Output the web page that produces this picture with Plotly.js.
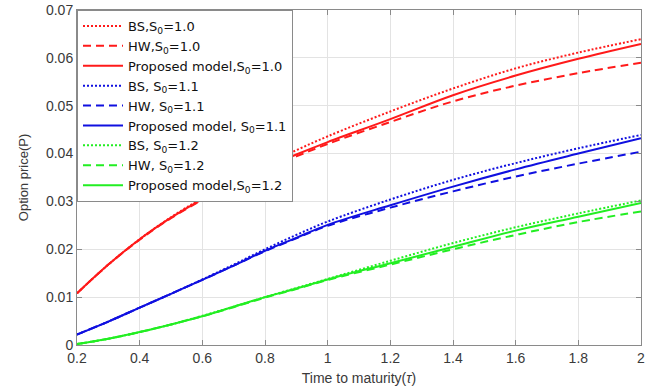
<!DOCTYPE html>
<html>
<head>
<meta charset="utf-8">
<script src="https://cdn.plot.ly/plotly-3.0.1.min.js"></script>
<style>html,body{margin:0;padding:0;background:#fff;}#chart{width:646px;height:392px;}</style>
</head>
<body>
<div id="chart"></div>
<script>
// Time to maturity (tau)
const tau = [0.2, 0.3, 0.4, 0.5, 0.6, 0.7, 0.8, 0.9, 1.0, 1.2, 1.4, 1.6, 1.8, 2.0];

// S0 = 1.0
const bs10 = [0.0108, 0.0168, 0.0221, 0.0267, 0.0307, 0.0343, 0.0376, 0.0407, 0.0436, 0.0488, 0.0536, 0.0578, 0.0611, 0.0639];
const hw10 = [0.0108, 0.0168, 0.0220, 0.0265, 0.0303, 0.0336, 0.0366, 0.0394, 0.0420, 0.0466, 0.0509, 0.0542, 0.0568, 0.0590];
const pm10 = [0.0108, 0.0168, 0.0221, 0.0266, 0.0305, 0.0339, 0.0370, 0.0398, 0.0424, 0.0472, 0.0522, 0.0563, 0.0598, 0.0629];

// S0 = 1.1
const bs11 = [0.0022, 0.0049, 0.0078, 0.0107, 0.0137, 0.0168, 0.0200, 0.0230, 0.0258, 0.0304, 0.0345, 0.0380, 0.0411, 0.0439];
const hw11 = [0.0022, 0.0049, 0.0078, 0.0107, 0.0136, 0.0166, 0.0196, 0.0223, 0.0249, 0.0287, 0.0321, 0.0352, 0.0379, 0.0404];
const pm11 = [0.0022, 0.0049, 0.0078, 0.0107, 0.0136, 0.0166, 0.0197, 0.0224, 0.0251, 0.0292, 0.0331, 0.0367, 0.0400, 0.0432];

// S0 = 1.2
const bs12 = [0.0002, 0.0013, 0.0027, 0.0043, 0.0061, 0.0080, 0.0100, 0.0119, 0.0138, 0.0176, 0.0213, 0.0246, 0.0275, 0.0302];
const hw12 = [0.0002, 0.0013, 0.0027, 0.0043, 0.0060, 0.0079, 0.0099, 0.0117, 0.0136, 0.0168, 0.0200, 0.0230, 0.0257, 0.0279];
const pm12 = [0.0002, 0.0013, 0.0027, 0.0043, 0.0060, 0.0080, 0.0100, 0.0118, 0.0137, 0.0171, 0.0205, 0.0239, 0.0268, 0.0297];

const names = [
  'BS,S<sub>0</sub>=1.0', 'HW,S<sub>0</sub>=1.0', 'Proposed model,S<sub>0</sub>=1.0',
  'BS, S<sub>0</sub>=1.1', 'HW, S<sub>0</sub>=1.1', 'Proposed model, S<sub>0</sub>=1.1',
  'BS, S<sub>0</sub>=1.2', 'HW, S<sub>0</sub>=1.2', 'Proposed model,S<sub>0</sub>=1.2'
];
const xTickVals = [0.2, 0.4, 0.6, 0.8, 1.0, 1.2, 1.4, 1.6, 1.8, 2.0];
const xTickText = ['0.2', '0.4', '0.6', '0.8', '1', '1.2', '1.4', '1.6', '1.8', '2'];
const yTickVals = [0, 0.01, 0.02, 0.03, 0.04, 0.05, 0.06, 0.07];
const yTickText = ['0', '0.01', '0.02', '0.03', '0.04', '0.05', '0.06', '0.07'];

const series = [bs10, hw10, pm10, bs11, hw11, pm11, bs12, hw12, pm12];
const colors = ['#ff1a1a', '#ff1a1a', '#ff1a1a', '#1010e0', '#1010e0', '#1010e0', '#22ee22', '#22ee22', '#22ee22'];
const dashes = ['2px,2px', '8px,5px', 'solid', '2px,2px', '8px,5px', 'solid', '2px,2px', '8px,5px', 'solid'];

const traces = series.map((ys, i) => ({
  x: tau, y: ys, type: 'scatter', mode: 'lines', name: names[i],
  line: {color: colors[i], width: 2, dash: dashes[i], shape: 'spline', smoothing: 1}
}));

const axisCommon = {
  showgrid: true, gridcolor: '#e3e3e3', gridwidth: 1,
  showline: true, linecolor: '#8a8a8a', linewidth: 1, mirror: 'ticks',
  ticks: 'inside', ticklen: 5, tickcolor: '#8a8a8a',
  zeroline: false, automargin: false,
  tickfont: {family: 'Liberation Sans, Arial, sans-serif', size: 14, color: '#3a3a3a'}
};

const layout = {
  width: 646, height: 392,
  margin: {l: 77, r: 5, t: 10, b: 47},
  paper_bgcolor: '#fff', plot_bgcolor: '#fff',
  showlegend: true,
  legend: {
    x: 0, y: 1, xanchor: 'left', yanchor: 'top',
    bgcolor: '#fff', bordercolor: '#8a8a8a', borderwidth: 1,
    font: {family: 'DejaVu Sans, sans-serif', size: 13, color: '#111'},
    itemwidth: 40, tracegroupgap: 0
  },
  xaxis: Object.assign({}, axisCommon, {
    range: [0.2, 2], tickvals: xTickVals, ticktext: xTickText,
    title: {text: 'Time to maturity(<i>τ</i>)', standoff: 8,
      font: {family: 'Liberation Sans, Arial, sans-serif', size: 14, color: '#3a3a3a'}}
  }),
  yaxis: Object.assign({}, axisCommon, {
    range: [0, 0.07], tickvals: yTickVals, ticktext: yTickText,
    title: {text: 'Option price(P)', standoff: 14,
      font: {family: 'Liberation Sans, Arial, sans-serif', size: 13, color: '#3a3a3a'}}
  })
};

Plotly.newPlot('chart', traces, layout, {displayModeBar: false, staticPlot: true});
</script>
</body>
</html>
